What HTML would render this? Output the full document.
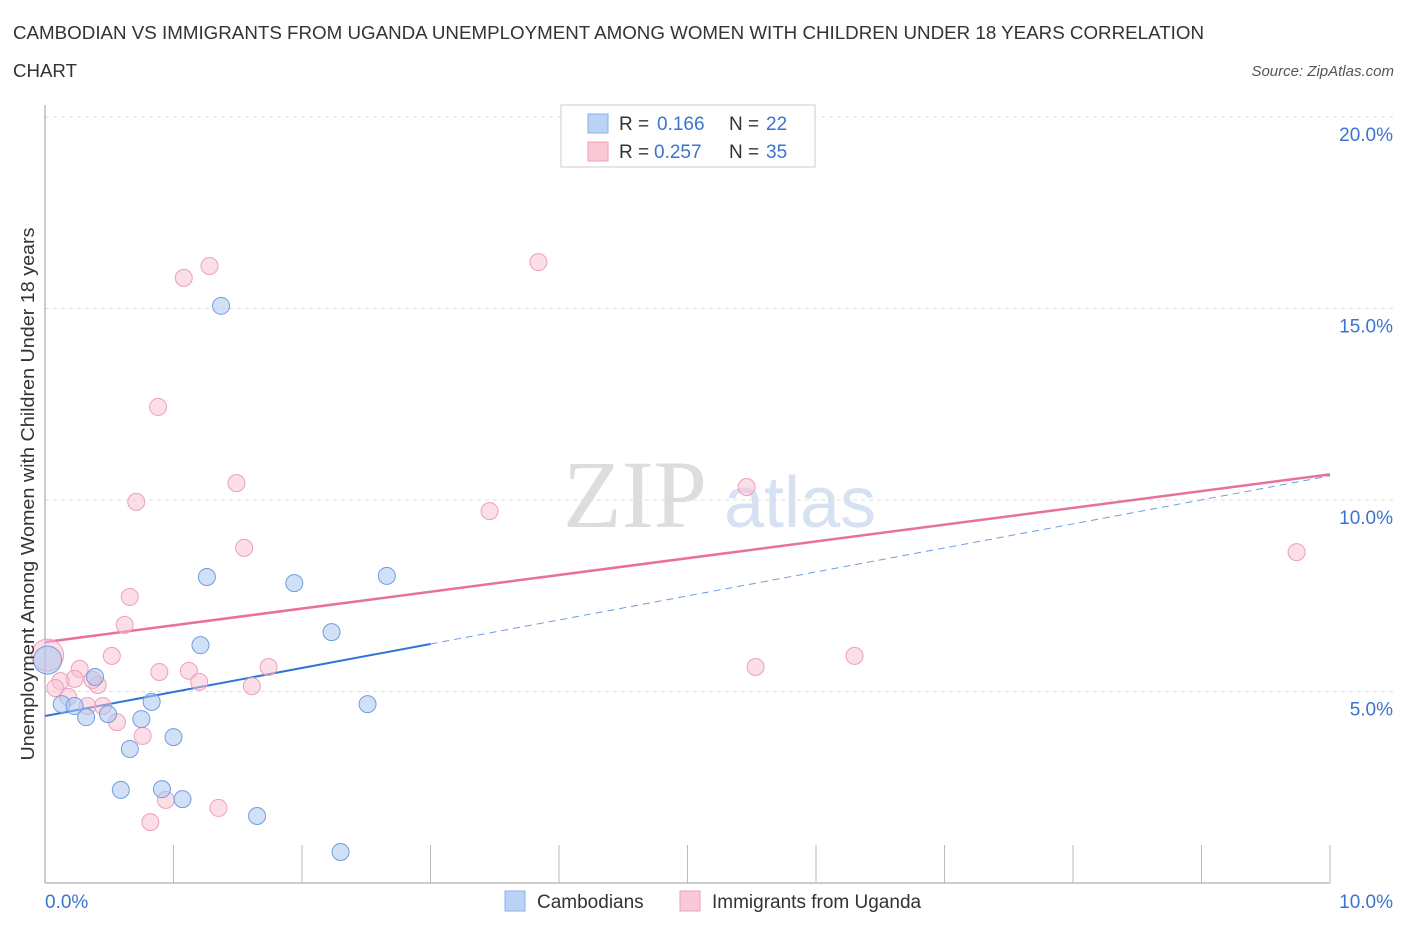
<!DOCTYPE html>
<html><head><meta charset="utf-8">
<style>
body{margin:0;background:#fff;font-family:"Liberation Sans",sans-serif;}
svg{display:block}
</style></head>
<body>
<svg id="chart" width="1406" height="930">
<text x="13" y="39" font-size="18" fill="#333" textLength="1191" lengthAdjust="spacingAndGlyphs">CAMBODIAN VS IMMIGRANTS FROM UGANDA UNEMPLOYMENT AMONG WOMEN WITH CHILDREN UNDER 18 YEARS CORRELATION</text>
<text x="13" y="77" font-size="18" fill="#333" textLength="64" lengthAdjust="spacingAndGlyphs">CHART</text>
<text x="1394" y="76" font-size="15" fill="#555" font-style="italic" text-anchor="end">Source: ZipAtlas.com</text>
<text x="635" y="527" font-size="96" fill="#ddd" font-family="Liberation Serif,serif" text-anchor="middle">ZIP</text>
<text x="800" y="527" font-size="72" fill="#d6e2f2" text-anchor="middle">atlas</text>
<g id="grid"></g>
<g id="axes"></g>
<g id="lines"></g>
<g id="points"></g>
<text transform="translate(34,494) rotate(-90)" font-size="18" fill="#333" text-anchor="middle" textLength="533" lengthAdjust="spacingAndGlyphs">Unemployment Among Women with Children Under 18 years</text>
<g>
<rect x="561" y="105" width="254" height="62" fill="#fff" stroke="#ccc"/>
<rect x="588" y="114" width="20" height="19" fill="#b8d3f5" stroke="#8ab2e8"/>
<text x="619" y="130" font-size="19" fill="#333">R = </text><text x="657" y="130" font-size="19" fill="#3a74d0">0.166</text>
<text x="729" y="130" font-size="19" fill="#333">N = </text><text x="766" y="130" font-size="19" fill="#3a74d0">22</text>
<rect x="588" y="142" width="20" height="19" fill="#f9c9d7" stroke="#f0a0b8"/>
<text x="619" y="158" font-size="19" fill="#333">R = </text><text x="654" y="158" font-size="19" fill="#3a74d0">0.257</text>
<text x="729" y="158" font-size="19" fill="#333">N = </text><text x="766" y="158" font-size="19" fill="#3a74d0">35</text>
</g>
<g>
<rect x="505" y="891" width="20" height="20" fill="#b8d3f5" stroke="#8ab2e8"/>
<text x="537" y="908" font-size="19" fill="#333">Cambodians</text>
<rect x="680" y="891" width="20" height="20" fill="#f9c9d7" stroke="#f0a0b8"/>
<text x="712" y="908" font-size="19" fill="#333">Immigrants from Uganda</text>
</g>
</svg>
<script>
const blueX=[1.37,1.26,1.94,2.66,2.23,1.21,0.39,0.13,0.23,0.32,0.49,0.83,0.75,1.00,0.66,0.59,0.91,1.07,1.65,2.30,2.51,0.02];
const blueY=[15.07,7.99,7.83,8.02,6.55,6.21,5.38,4.67,4.62,4.33,4.41,4.73,4.28,3.81,3.50,2.43,2.45,2.19,1.75,0.81,4.67,5.82];
const pinkX=[1.28,1.08,3.84,0.88,1.49,0.71,3.46,5.46,1.55,9.74,0.66,0.62,0.52,0.27,0.89,1.12,1.74,5.53,6.30,1.20,1.61,0.41,0.23,0.12,0.08,0.45,0.33,0.56,0.76,0.94,1.35,0.82,0.02,0.18,0.37];
const pinkY=[16.11,15.80,16.21,12.43,10.44,9.95,9.71,10.34,8.75,8.64,7.47,6.74,5.93,5.59,5.51,5.54,5.64,5.64,5.93,5.25,5.14,5.17,5.33,5.27,5.09,4.62,4.62,4.20,3.84,2.17,1.96,1.59,5.95,4.86,5.30];
const yTicks=[5,10,15,20];
const yTickLabels=["5.0%","10.0%","15.0%","20.0%"];
const blueTrend=[4.36,10.63];
const pinkTrend=[6.29,10.67];
const NS="http://www.w3.org/2000/svg";
const sx=v=>45+v*128.5;
const sy=v=>883-v*38.3;
function mk(t,a,p){const e=document.createElementNS(NS,t);for(const k in a)e.setAttribute(k,a[k]);p.appendChild(e);return e;}
const grid=document.getElementById('grid'),axes=document.getElementById('axes'),lines=document.getElementById('lines'),pts=document.getElementById('points');
yTicks.forEach((t,i)=>{
 const l=mk('line',{x1:45,x2:1394,y1:sy(t),y2:sy(t),stroke:'#ddd','stroke-dasharray':'4,4'},grid);
 
 
 const tx=mk('text',{x:1393,y:sy(t)+24,'font-size':19,fill:'#3a74d0','text-anchor':'end'},axes);
 tx.textContent=yTickLabels[i];
 
 
});
const xa=mk('line',{x1:45,x2:1330,y1:883,y2:883,stroke:'#999'},axes);


const ya=mk('line',{x1:45,x2:45,y1:105,y2:883,stroke:'#999'},axes);


for(let i=1;i<=10;i++){const t=mk('line',{x1:sx(i),x2:sx(i),y1:845,y2:883,stroke:'#bbb'},axes);
 
 }
const xl0=mk('text',{x:45,y:908,'font-size':19,fill:'#3a74d0'},axes);xl0.textContent='0.0%';


const xl1=mk('text',{x:1393,y:908,'font-size':19,fill:'#3a74d0','text-anchor':'end'},axes);xl1.textContent='10.0%';


const lerp=(a,x)=>a[0]+(a[1]-a[0])*x/10;
let b1=mk('line',{x1:sx(0),y1:sy(lerp(blueTrend,0)),x2:sx(3),y2:sy(lerp(blueTrend,3)),stroke:'#2f74d6','stroke-width':2},lines);


let b2=mk('line',{x1:sx(3),y1:sy(lerp(blueTrend,3)),x2:sx(10),y2:sy(lerp(blueTrend,10)),stroke:'#6f9de0','stroke-width':1,'stroke-dasharray':'7,5'},lines);


let p1=mk('line',{x1:sx(0),y1:sy(lerp(pinkTrend,0)),x2:sx(10),y2:sy(lerp(pinkTrend,10)),stroke:'#e8709a','stroke-width':2.5},lines);


pinkX.forEach((x,i)=>{const r=i===32?16:8.5;
 const c=mk('circle',{cx:sx(x),cy:sy(pinkY[i]),r:r,fill:'rgba(249,190,208,0.5)',stroke:'#eda0ba','stroke-width':1},pts);
 
 });
blueX.forEach((x,i)=>{const r=i===21?14:8.5;
 const c=mk('circle',{cx:sx(x),cy:sy(blueY[i]),r:r,fill:'rgba(170,200,240,0.55)',stroke:'#6f9de0','stroke-width':1},pts);
 
 });
</script>
</body></html>
